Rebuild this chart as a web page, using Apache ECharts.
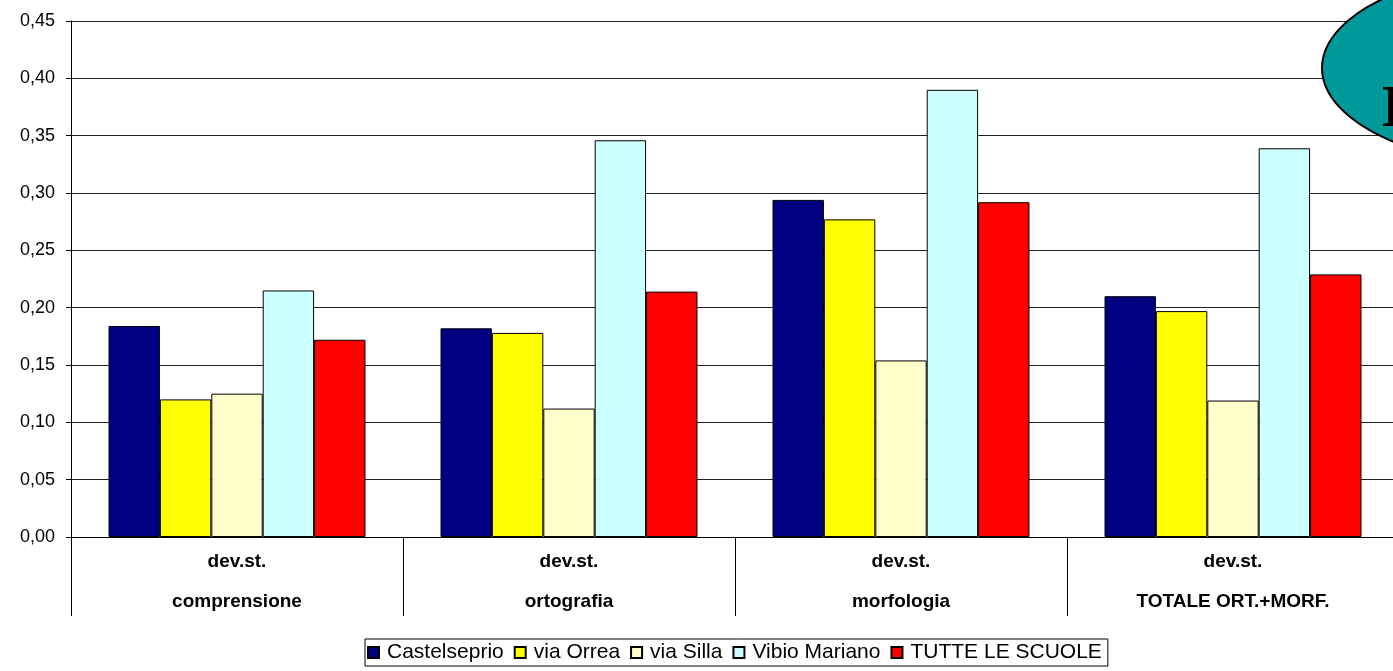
<!DOCTYPE html>
<html><head><meta charset="utf-8">
<script src="https://cdn.jsdelivr.net/npm/echarts@6/dist/echarts.min.js"></script>
<style>html,body{margin:0;padding:0;background:#fff;overflow:hidden;}#c{width:1399px;height:671px;}</style>
</head><body><div id="c"></div>
<script>
const categories = ['dev.st.\ncomprensione', 'dev.st.\nortografia', 'dev.st.\nmorfologia', 'dev.st.\nTOTALE ORT.+MORF.'];
const seriesNames = ['Castelseprio', 'via Orrea', 'via Silla', 'Vibio Mariano', 'TUTTE LE SCUOLE'];
const castelseprio = [0.184, 0.182, 0.294, 0.210];
const viaOrrea = [0.120, 0.178, 0.277, 0.197];
const viaSilla = [0.125, 0.112, 0.154, 0.119];
const vibioMariano = [0.215, 0.346, 0.390, 0.339];
const tutteLeScuole = [0.172, 0.214, 0.292, 0.229];
const yTicks = {min: 0, max: 0.45, step: 0.05};
const colors = ['#000080', '#FFFF00', '#FFFFCC', '#CCFFFF', '#FF0000'];
const values = [castelseprio, viaOrrea, viaSilla, vibioMariano, tutteLeScuole];
const FONT = '"Liberation Sans", Arial, sans-serif';

const chart = echarts.init(document.getElementById('c'), null, {renderer: 'canvas'});
chart.setOption({
  animation: false,
  backgroundColor: '#fff',
  textStyle: {fontFamily: FONT},
  grid: {left: 71, top: 21, right: 0, bottom: 134, containLabel: false},
  legend: {
    left: 365, top: 639,
    data: seriesNames,
    icon: 'rect',
    itemWidth: 11, itemHeight: 11, itemGap: 10,
    borderColor: '#000', borderWidth: 1,
    padding: [3, 6, 3, 2],
    textStyle: {fontSize: 21, color: '#000', fontFamily: FONT, padding: [0, 0, 0, 3]}
  },
  xAxis: {
    type: 'category',
    data: categories,
    axisLine: {lineStyle: {color: '#000', width: 1}},
    axisTick: {show: true, length: 79, lineStyle: {color: '#000'}},
    axisLabel: {
      margin: 5, color: '#000', fontSize: 19, fontWeight: 'bold', lineHeight: 40,
      fontFamily: FONT
    }
  },
  yAxis: {
    type: 'value',
    min: yTicks.min, max: yTicks.max, interval: yTicks.step,
    axisLine: {show: true, lineStyle: {color: '#000'}},
    axisTick: {show: true, length: 5, lineStyle: {color: '#000'}},
    splitLine: {lineStyle: {color: '#222', width: 1}},
    axisLabel: {
      margin: 16, color: '#000', fontSize: 18,
      formatter: v => v.toFixed(2).replace('.', ',')
    }
  },
  series: seriesNames.map((n, i) => ({
    name: n, type: 'bar', data: values[i],
    barGap: '0%', barCategoryGap: '22.6%',
    itemStyle: {color: colors[i], borderColor: '#000', borderWidth: 1}
  })),
  graphic: [
    {type: 'ellipse', shape: {cx: 1541, cy: 68, rx: 219, ry: 100},
     style: {fill: '#009999', stroke: '#000', lineWidth: 2}, z: 100},
    {type: 'text', left: 1381, top: 80,
     style: {text: 'I', fill: '#000', font: 'bold 60px "Liberation Serif", "Times New Roman", serif'}, z: 101}
  ]
});
</script></body></html>
